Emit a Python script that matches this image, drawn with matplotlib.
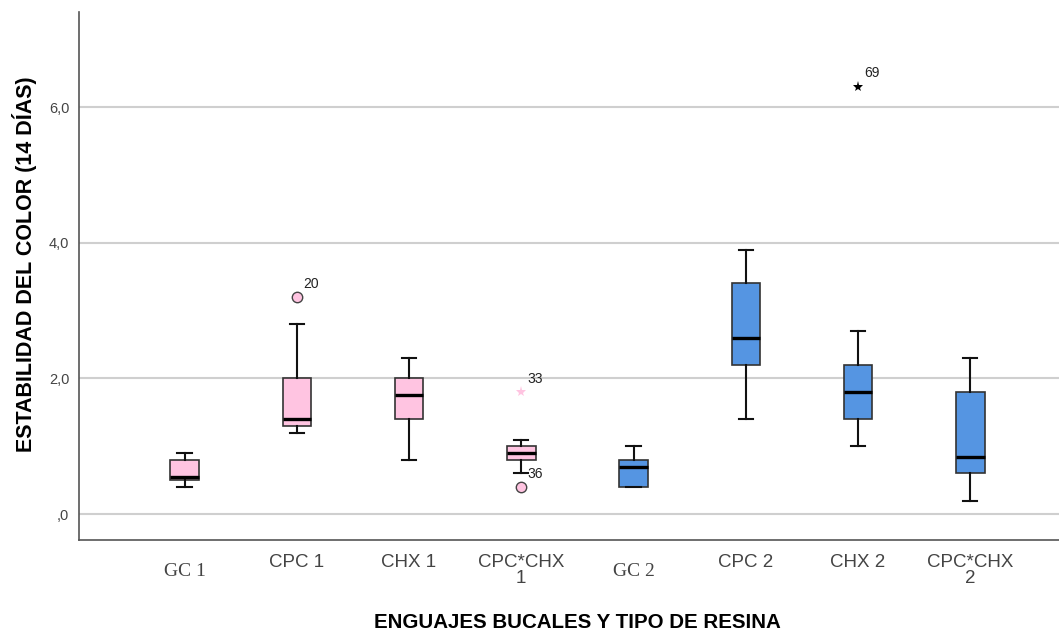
import matplotlib
matplotlib.use('Agg')
import matplotlib.pyplot as plt

# ── data ──────────────────────────────────────────────
categories = ['GC 1', 'CPC 1', 'CHX 1', 'CPC*CHX\n1', 'GC 2', 'CPC 2', 'CHX 2', 'CPC*CHX\n2']
whislo = [0.40, 1.20, 0.80, 0.60, 0.40, 1.40, 1.00, 0.20]
q1 = [0.50, 1.30, 1.40, 0.80, 0.40, 2.20, 1.40, 0.60]
med = [0.55, 1.40, 1.75, 0.90, 0.70, 2.60, 1.80, 0.85]
q3 = [0.80, 2.00, 2.00, 1.00, 0.80, 3.40, 2.20, 1.80]
whishi = [0.90, 2.80, 2.30, 1.10, 1.00, 3.90, 2.70, 2.30]
resin = [1, 1, 1, 1, 2, 2, 2, 2]

# outliers: (category index, value, case label, kind)
out_idx = [1, 3, 3, 6]
out_val = [3.2, 1.8, 0.4, 6.3]
out_lab = ['20', '33', '36', '69']
out_kind = ['circle', 'star', 'circle', 'star']

yticks = [0, 2, 4, 6]
ytick_labels = [',0', '2,0', '4,0', '6,0']

# ── style ─────────────────────────────────────────────
PINK = '#FFC4E1'
BLUE = '#5595E2'
EDGE = '#333333'
SANS = ['Liberation Sans', 'DejaVu Sans']
SERIF = ['Liberation Serif', 'DejaVu Serif']

fig = plt.figure(figsize=(10.59, 6.31), dpi=100)
ax = fig.add_axes([0.0746, 0.1442, 0.9254, 0.8368])

stats = []
for i in range(len(categories)):
    stats.append(dict(whislo=whislo[i], q1=q1[i], med=med[i], q3=q3[i],
                      whishi=whishi[i], fliers=[]))

positions = list(range(len(categories)))
bp = ax.bxp(stats, positions=positions, widths=0.254, patch_artist=True,
            showfliers=False,
            boxprops=dict(edgecolor=EDGE, linewidth=1.2),
            medianprops=dict(color='black', linewidth=2.4),
            whiskerprops=dict(color='#111111', linewidth=1.5),
            capprops=dict(color='#111111', linewidth=1.5))
for patch, r in zip(bp['boxes'], resin):
    patch.set_facecolor(PINK if r == 1 else BLUE)
for m in bp['medians']:
    m.set_zorder(4)

# outliers and case labels
for i, v, lab, kind in zip(out_idx, out_val, out_lab, out_kind):
    col = PINK if resin[i] == 1 else 'black'
    if kind == 'circle':
        ax.plot(i, v, 'o', markersize=7.5, markerfacecolor=col,
                markeredgecolor='#444444', markeredgewidth=1.0, zorder=5)
    else:
        ax.plot(i, v, '*', markersize=8, color=col, markeredgewidth=0, zorder=5)
    ax.annotate(lab, xy=(i, v), xytext=(4.5, 9.5), textcoords='offset points',
                ha='left', va='center', fontsize=10, color='#222222', family=SANS)

# ── axes ──────────────────────────────────────────────
ax.set_xlim(-0.94, 7.79)
ax.set_ylim(-0.38, 7.4)
ax.set_yticks(yticks)
ax.set_yticklabels(ytick_labels, family=SANS, fontsize=10.5, color='#444444')
ax.yaxis.grid(True, color='#cfcfcf', linewidth=1.5)
ax.set_axisbelow(True)
ax.tick_params(axis='both', length=0)
ax.tick_params(axis='y', pad=7)
ax.tick_params(axis='x', pad=10)

ax.set_xticks(positions)
ax.set_xticklabels(categories, fontsize=13.5, color='#444444', family=SANS,
                   linespacing=0.95, va='top')
for t, c in zip(ax.get_xticklabels(), categories):
    if c.startswith('GC'):
        t.set_family(SERIF)
        t.set_fontsize(14)
        t.set_y(-0.018)

for s in ['top', 'right']:
    ax.spines[s].set_visible(False)
for s in ['left', 'bottom']:
    ax.spines[s].set_color('#555555')
    ax.spines[s].set_linewidth(1.2)

fig.text(0.0227, 0.581, 'ESTABILIDAD DEL COLOR (14 DÍAS)', rotation=90,
         ha='center', va='center', fontsize=15.5, fontweight='bold', family=SANS)
fig.text(0.545, 1 - 622 / 631, 'ENGUAJES BUCALES Y TIPO DE RESINA',
         ha='center', va='center', fontsize=14.8, fontweight='bold', family=SANS)

fig.savefig('out.png', dpi=100, facecolor='white')
